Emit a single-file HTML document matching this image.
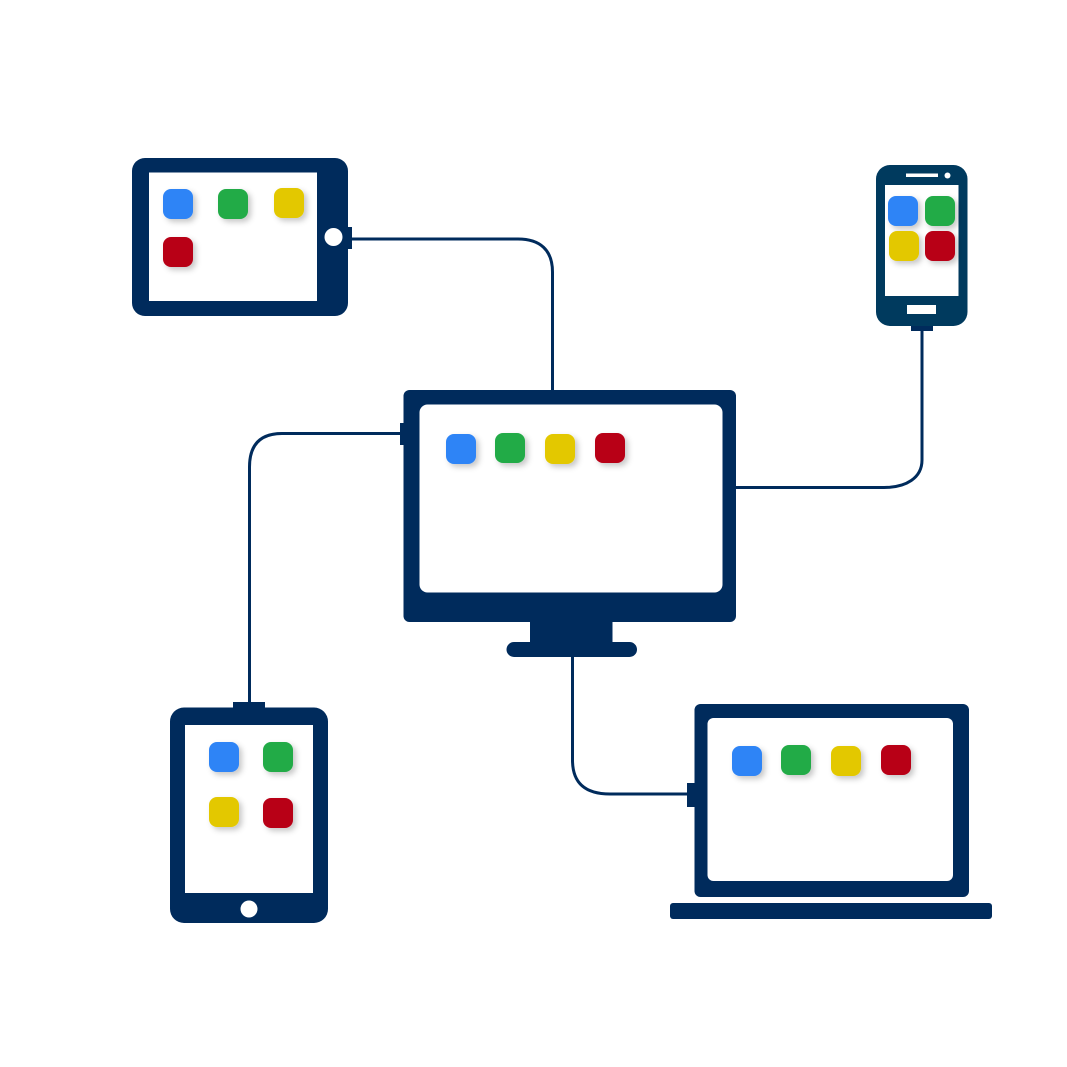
<!DOCTYPE html>
<html>
<head>
<meta charset="utf-8">
<style>
html,body{margin:0;padding:0;background:#fff;width:1067px;height:1067px;overflow:hidden}
svg{display:block}
.d{fill:#002b5c}
.p{fill:#003a5e}
.w{fill:#fff}
.l{fill:none;stroke:#002b5c;stroke-width:3}
</style>
</head>
<body>
<svg width="1067" height="1067" viewBox="0 0 1067 1067" xmlns="http://www.w3.org/2000/svg">
<defs>
<filter id="s" x="-30%" y="-30%" width="170%" height="170%">
<feDropShadow dx="3" dy="3" stdDeviation="3" flood-color="#000" flood-opacity="0.22"/>
</filter>
</defs>
<rect width="1067" height="1067" fill="#fff"/>

<!-- connectors -->
<path class="l" d="M352 239H518C540 239 552.500 250 552.500 272V390"/>
<path class="l" d="M922 331V460C922 478 906 487.500 884 487.500H736"/>
<path class="l" d="M400 433.500H282C260 433.500 249.500 445 249.500 467V702"/>
<path class="l" d="M572.500 657V760C572.500 782 584 794 610 794H687"/>

<!-- tablet top-left -->
<rect class="d" x="132" y="158" width="216" height="158" rx="13"/>
<rect class="d" x="347" y="227" width="5" height="22"/>
<rect class="w" x="149" y="172.500" width="168" height="128.500"/>
<circle class="w" cx="333.500" cy="237" r="9"/>
<g filter="url(#s)">
<rect x="163" y="189" width="30" height="30" rx="8" fill="#2d84f6"/>
<rect x="218" y="189" width="30" height="30" rx="8" fill="#22ab47"/>
<rect x="274" y="188" width="30" height="30" rx="8" fill="#e3c800"/>
<rect x="163" y="237" width="30" height="30" rx="8" fill="#b80018"/>
</g>

<!-- phone -->
<rect class="p" x="876" y="165" width="91.500" height="161" rx="14"/>
<rect class="d" x="911" y="326" width="22" height="5"/>
<rect class="w" x="885" y="185" width="73.500" height="111"/>
<rect class="w" x="906" y="173.500" width="32" height="3.500"/>
<circle class="w" cx="947.500" cy="175.500" r="3"/>
<rect class="w" x="907" y="305" width="29" height="9"/>
<g filter="url(#s)">
<rect x="888" y="196" width="30" height="30" rx="8" fill="#2d84f6"/>
<rect x="925" y="196" width="30" height="30" rx="8" fill="#22ab47"/>
<rect x="889" y="231" width="30" height="30" rx="8" fill="#e3c800"/>
<rect x="925" y="231" width="30" height="30" rx="8" fill="#b80018"/>
</g>

<!-- monitor -->
<rect class="d" x="403.500" y="390" width="332.500" height="232" rx="6"/>
<rect class="d" x="400" y="423" width="5" height="22"/>
<rect class="d" x="530" y="621" width="82.500" height="22"/>
<rect class="d" x="506.500" y="642" width="130.500" height="15" rx="7.500"/>
<rect class="w" x="419.500" y="404.500" width="303" height="188" rx="8"/>
<g filter="url(#s)">
<rect x="446" y="434" width="30" height="30" rx="8" fill="#2d84f6"/>
<rect x="495" y="433" width="30" height="30" rx="8" fill="#22ab47"/>
<rect x="545" y="434" width="30" height="30" rx="8" fill="#e3c800"/>
<rect x="595" y="433" width="30" height="30" rx="8" fill="#b80018"/>
</g>

<!-- tablet bottom-left -->
<rect class="d" x="170" y="707.500" width="158" height="215.500" rx="14"/>
<rect class="d" x="233" y="702" width="32" height="7"/>
<rect class="w" x="185" y="725" width="128" height="168"/>
<circle class="w" cx="249" cy="909" r="8.500"/>
<g filter="url(#s)">
<rect x="209" y="742" width="30" height="30" rx="8" fill="#2d84f6"/>
<rect x="263" y="742" width="30" height="30" rx="8" fill="#22ab47"/>
<rect x="209" y="797" width="30" height="30" rx="8" fill="#e3c800"/>
<rect x="263" y="798" width="30" height="30" rx="8" fill="#b80018"/>
</g>

<!-- laptop -->
<rect class="d" x="694.500" y="704" width="274.500" height="193" rx="6"/>
<rect class="d" x="687" y="783" width="9" height="24"/>
<rect class="d" x="670" y="903" width="322" height="16" rx="3"/>
<rect class="w" x="707.500" y="718" width="245.500" height="163" rx="6"/>
<g filter="url(#s)">
<rect x="732" y="746" width="30" height="30" rx="8" fill="#2d84f6"/>
<rect x="781" y="745" width="30" height="30" rx="8" fill="#22ab47"/>
<rect x="831" y="746" width="30" height="30" rx="8" fill="#e3c800"/>
<rect x="881" y="745" width="30" height="30" rx="8" fill="#b80018"/>
</g>
</svg>
</body>
</html>
